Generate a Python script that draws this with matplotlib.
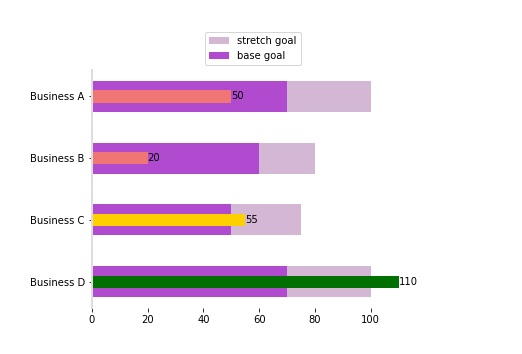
import numpy as np
import matplotlib
matplotlib.use('Agg')
import matplotlib.pyplot as plt

businesses = ['Business A', 'Business B', 'Business C', 'Business D']
stretch_goal = [100, 80, 75, 100]
base_goal = [70, 60, 50, 70]
actual = [50, 20, 55, 110]
actual_colors = ['#f07575', '#f07575', '#ffd000', '#007000']

fig = plt.figure(figsize=(522 / 72, 354 / 72), dpi=72)
ax = fig.add_axes([0.176, 0.13, 0.617, 0.672])

y = np.arange(len(businesses))
ax.barh(y, stretch_goal, height=0.5, color='#d4b7d4', label='stretch goal')
ax.barh(y, base_goal, height=0.5, color='#b04bcf', label='base goal')
bars = ax.barh(y, actual, height=0.2, color=actual_colors)
for b, v in zip(bars, actual):
    ax.text(b.get_width(), b.get_y() + b.get_height() / 2, str(v),
            va='center', ha='left', fontsize=10)

ax.set_yticks(y)
ax.set_yticklabels(businesses)
ax.invert_yaxis()

for s in ['top', 'right', 'bottom']:
    ax.spines[s].set_visible(False)
ax.spines['left'].set_color('#dddddd')
ax.spines['left'].set_linewidth(2)

ax.legend(loc='lower center', bbox_to_anchor=(0.5, 1.0))

fig.savefig('out.png', dpi=72)
